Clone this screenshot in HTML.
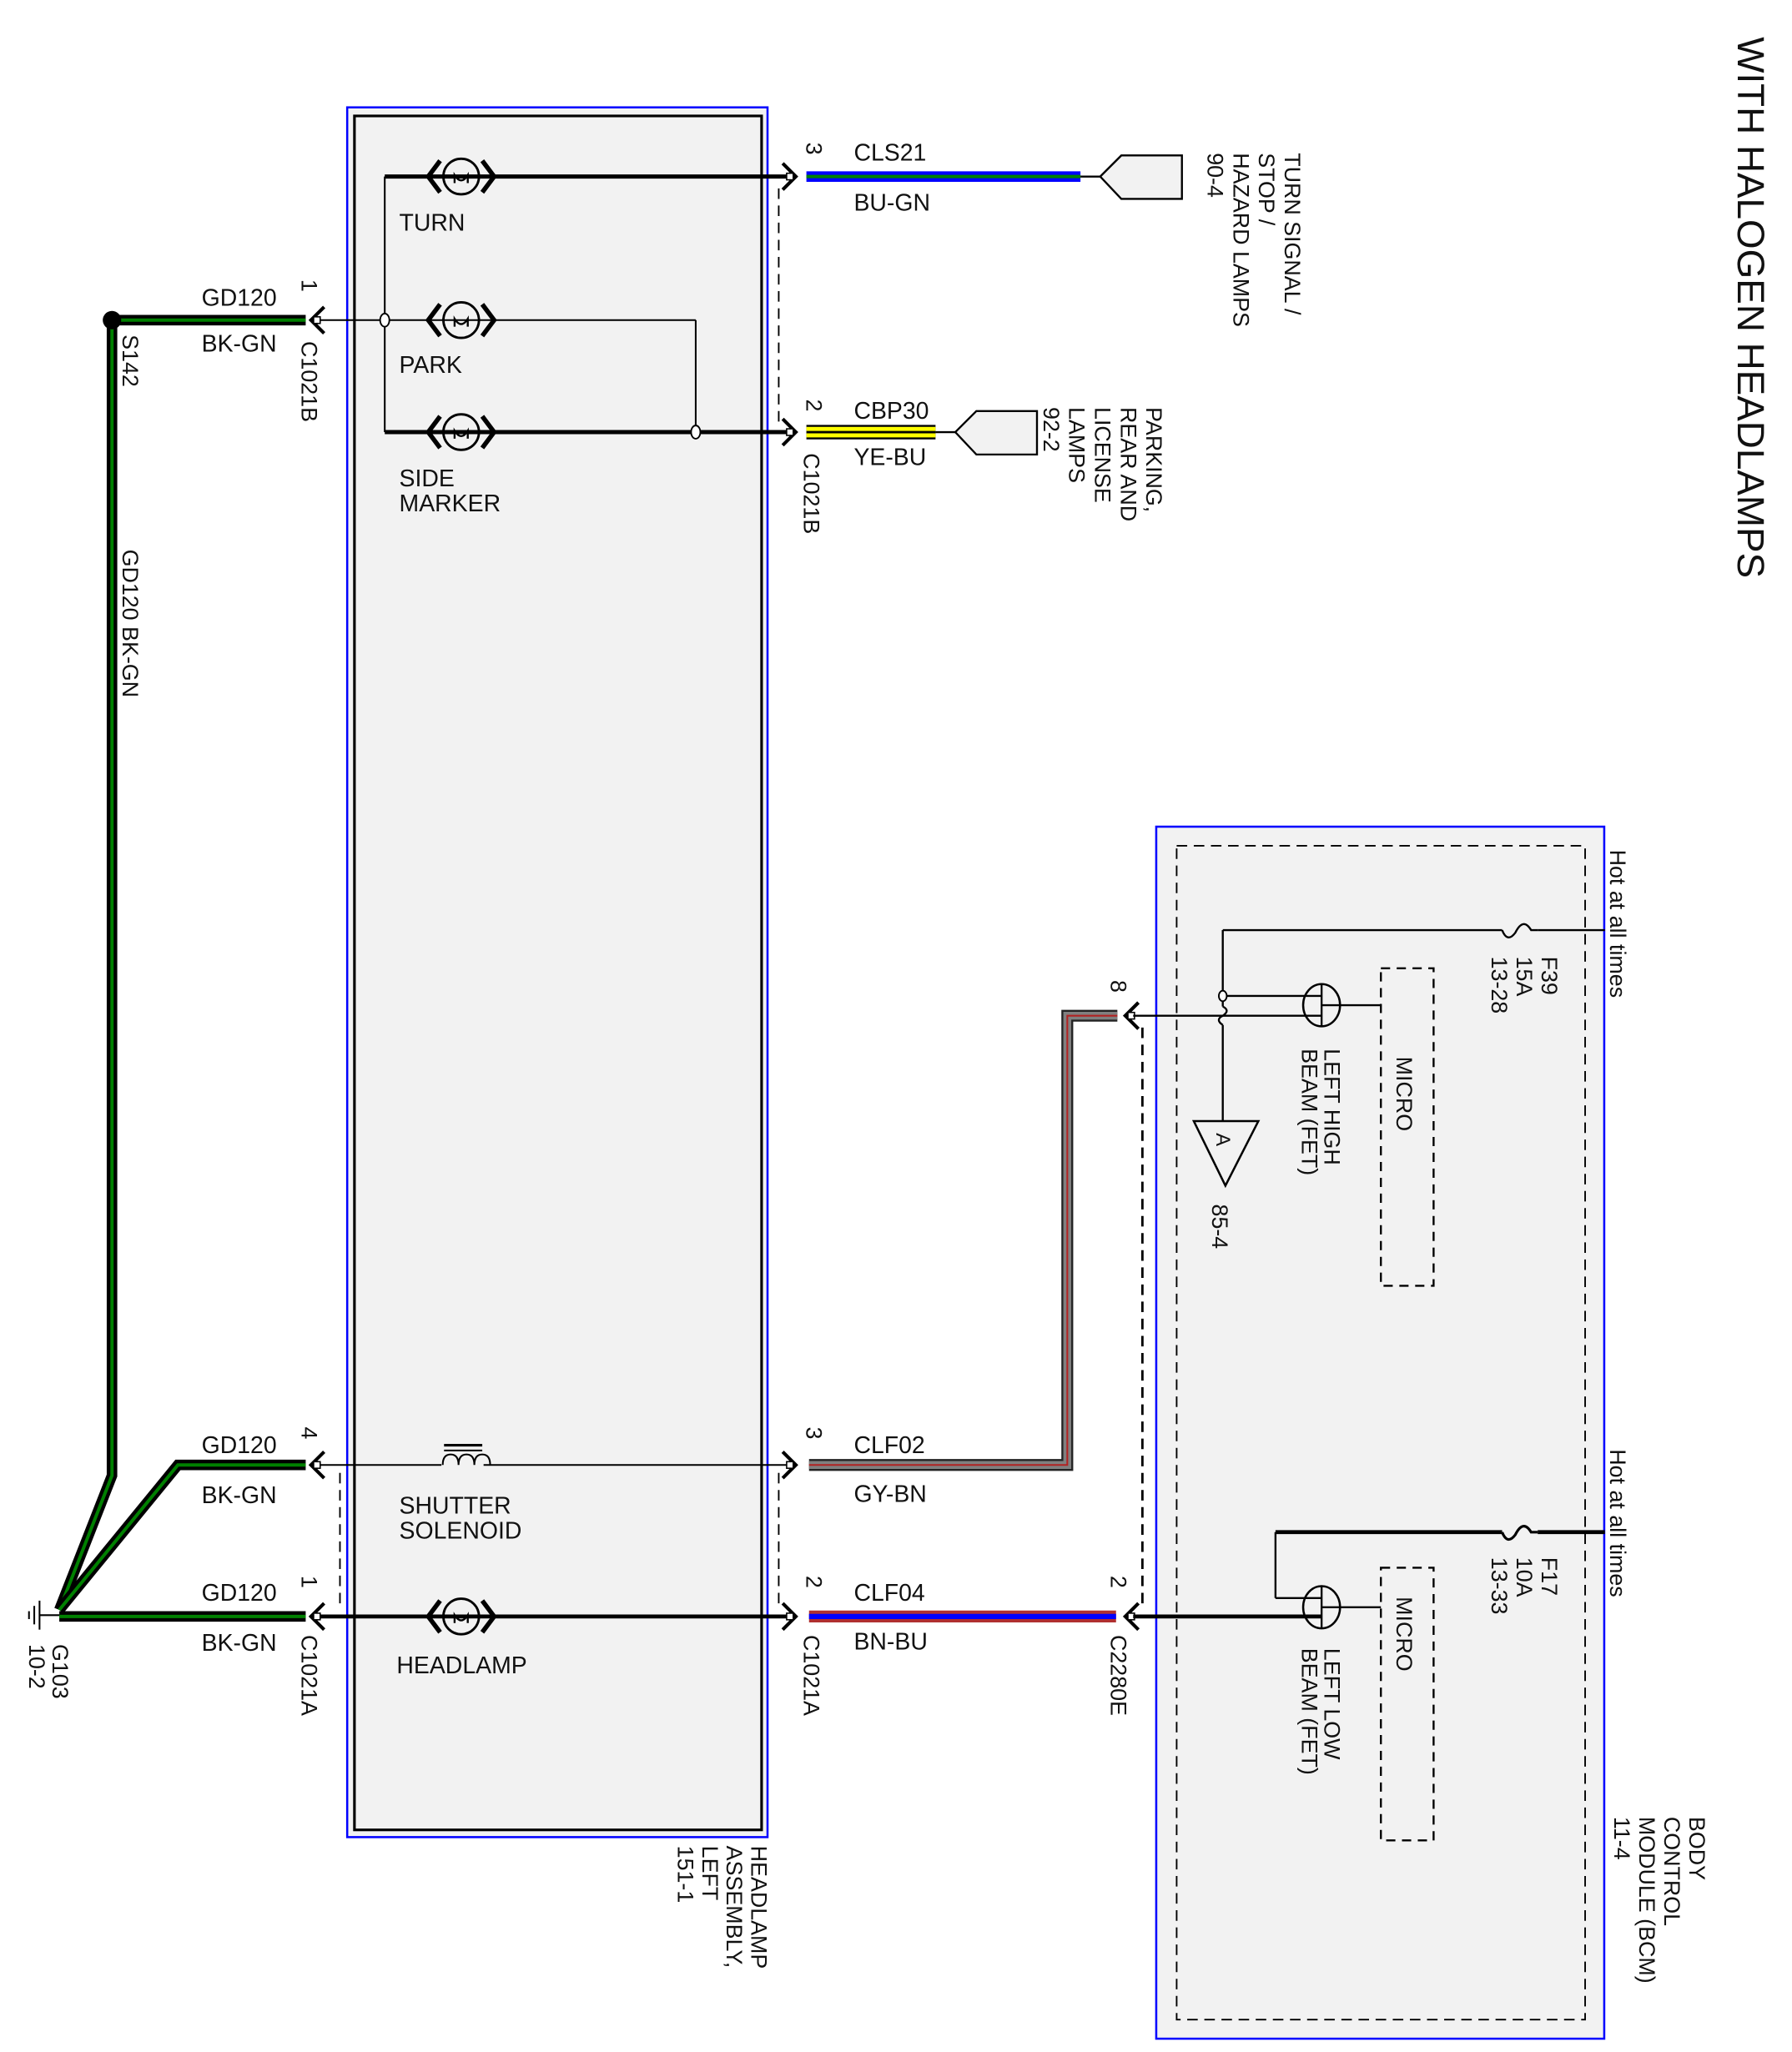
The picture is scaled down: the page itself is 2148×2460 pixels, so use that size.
<!DOCTYPE html>
<html><head><meta charset="utf-8">
<style>
html,body{margin:0;padding:0;background:#fff;}
svg{display:block;}
text{font-family:"Liberation Sans",sans-serif;fill:#111;}
</style></head><body>
<svg width="2148" height="2460" viewBox="0 0 1360 1557.6" preserveAspectRatio="none" xmlns="http://www.w3.org/2000/svg">
<defs>
<g id="lamp">
  <circle cx="0" cy="0" r="13.5" fill="none" stroke="#000" stroke-width="1.8"/>
  <path d="M-5,5 L-5,-1 Q0,7 5,-1 L5,5" fill="none" stroke="#000" stroke-width="1.5"/>
  <path d="M-16,-12 L-25,0 L-16,12" fill="none" stroke="#000" stroke-width="3.5"/>
  <path d="M16,-12 L25,0 L16,12" fill="none" stroke="#000" stroke-width="3.5"/>
</g>
<g id="arrR"><path d="M-6,-10 L4,0 L-6,10" fill="none" stroke="#000" stroke-width="2.6"/><rect x="-3" y="-2.5" width="5" height="5" fill="#fff" stroke="#000" stroke-width="1"/></g>
<g id="arrL"><path d="M6,-10 L-4,0 L6,10" fill="none" stroke="#000" stroke-width="2.6"/><rect x="-2" y="-2.5" width="5" height="5" fill="#fff" stroke="#000" stroke-width="1"/></g>
</defs>

<text transform="translate(1319,28) rotate(90)" font-size="29">WITH HALOGEN HEADLAMPS</text>

<rect x="263.5" y="81.5" width="319" height="1313" fill="#f2f2f2" stroke="#0000ff" stroke-width="1.6"/>
<rect x="269" y="88" width="309" height="1301" fill="#f2f2f2" stroke="#000" stroke-width="2"/>

<rect x="877.5" y="627.5" width="340" height="920" fill="#f2f2f2" stroke="#0000ff" stroke-width="1.6"/>
<rect x="893" y="642" width="310" height="891" fill="none" stroke="#000" stroke-width="1.2" stroke-dasharray="8,5"/>

<g stroke="#000" stroke-width="1.2" stroke-dasharray="8,5" fill="none">
<line x1="591" y1="143" x2="591" y2="322"/>
<line x1="591" y1="1118" x2="591" y2="1222"/>
<line x1="258" y1="1118" x2="258" y2="1222"/>
<line x1="867" y1="780" x2="867" y2="1220" stroke-width="1.8"/>
</g>

<g stroke="#000" fill="none">
<line x1="292" y1="134" x2="292" y2="328" stroke-width="1.3"/>
<line x1="292" y1="134" x2="600" y2="134" stroke-width="3.2"/>
<line x1="238" y1="243" x2="528" y2="243" stroke-width="1.3"/>
<line x1="528" y1="243" x2="528" y2="328" stroke-width="1.3"/>
<line x1="292" y1="328" x2="600" y2="328" stroke-width="3.2"/>
<line x1="238" y1="1112" x2="600" y2="1112" stroke-width="1.3"/>
<line x1="238" y1="1227" x2="600" y2="1227" stroke-width="3"/>
</g>
<ellipse cx="292" cy="243" rx="3.5" ry="5" fill="#fff" stroke="#000" stroke-width="1.2"/>
<ellipse cx="528" cy="328" rx="3.5" ry="5" fill="#fff" stroke="#000" stroke-width="1.2"/>
<use href="#lamp" x="350" y="134"/>
<use href="#lamp" x="350" y="243"/>
<use href="#lamp" x="350" y="328"/>
<use href="#lamp" x="350" y="1227"/>
<rect x="335" y="1100" width="32" height="14" fill="#f2f2f2"/>
<path d="M336,1112 q0,-8 6,-8 q6,0 6,8 q0,-8 6,-8 q6,0 6,8 q0,-8 6,-8 q6,0 6,8" fill="none" stroke="#000" stroke-width="1.3"/>
<line x1="337" y1="1097" x2="366" y2="1097" stroke="#000" stroke-width="2"/>
<line x1="337" y1="1101" x2="366" y2="1101" stroke="#000" stroke-width="1.3"/>

<use href="#arrR" x="600" y="134"/>
<use href="#arrR" x="600" y="328"/>
<use href="#arrR" x="600" y="1112"/>
<use href="#arrR" x="600" y="1227"/>
<use href="#arrL" x="240" y="243"/>
<use href="#arrL" x="240" y="1112"/>
<use href="#arrL" x="240" y="1227"/>
<use href="#arrL" x="858" y="771"/>
<use href="#arrL" x="858" y="1227"/>

<line x1="612" y1="134" x2="820" y2="134" stroke="#0000ff" stroke-width="8"/>
<line x1="612" y1="134" x2="820" y2="134" stroke="#008000" stroke-width="2.5"/>
<line x1="820" y1="134" x2="835" y2="134" stroke="#000" stroke-width="1.5"/>
<polygon points="835,134 851,118 897,118 897,151 851,151" fill="#f2f2f2" stroke="#000" stroke-width="1.5"/>

<line x1="612" y1="328" x2="710" y2="328" stroke="#000" stroke-width="11"/>
<line x1="612" y1="328" x2="710" y2="328" stroke="#ffff00" stroke-width="8"/>
<line x1="612" y1="328" x2="710" y2="328" stroke="#000" stroke-width="1.8"/>
<line x1="710" y1="328" x2="725" y2="328" stroke="#000" stroke-width="1.5"/>
<polygon points="725,328 741,312 787,312 787,345 741,345" fill="#f2f2f2" stroke="#000" stroke-width="1.5"/>

<path d="M614,1112 L810,1112 L810,771 L848,771" fill="none" stroke="#222" stroke-width="9"/>
<path d="M614,1112 L810,1112 L810,771 L848,771" fill="none" stroke="#808080" stroke-width="6"/>
<path d="M614,1112 L810,1112 L810,771 L848,771" fill="none" stroke="#b22222" stroke-width="1.3"/>
<line x1="614" y1="1227" x2="847" y2="1227" stroke="#b03030" stroke-width="9"/>
<line x1="614" y1="1227" x2="847" y2="1227" stroke="#0000ff" stroke-width="4"/>

<g fill="none" stroke-linejoin="miter">
<path d="M232,243 L85,243 L85,1120 L45,1222" stroke="#000" stroke-width="8"/>
<path d="M232,243 L85,243 L85,1120 L45,1222" stroke="#008000" stroke-width="2.5"/>
<path d="M232,1112 L135,1112 L45,1222" stroke="#000" stroke-width="8"/>
<path d="M232,1112 L135,1112 L45,1222" stroke="#008000" stroke-width="2.5"/>
<path d="M232,1227 L45,1227" stroke="#000" stroke-width="8"/>
<path d="M232,1227 L45,1227" stroke="#008000" stroke-width="2.5"/>
</g>
<circle cx="85" cy="243" r="7" fill="#000"/>
<line x1="30" y1="1226" x2="45" y2="1226" stroke="#000" stroke-width="1.3"/>
<line x1="30" y1="1215" x2="30" y2="1237" stroke="#000" stroke-width="1.3"/>
<line x1="26" y1="1219" x2="26" y2="1233" stroke="#000" stroke-width="1.3"/>
<line x1="22" y1="1223" x2="22" y2="1229" stroke="#000" stroke-width="1.3"/>

<g stroke="#000" fill="none" stroke-width="1.5">
<line x1="928" y1="706" x2="1140" y2="706"/>
<path d="M1140,706 q4,10 10,2 q6,-12 12,-2 q4,0 5,0"/>
<line x1="1167" y1="706" x2="1218" y2="706"/>
<line x1="928" y1="706" x2="928" y2="764"/>
<path d="M928,764 q6,3 0,7 q-6,3 0,7"/>
<line x1="928" y1="778" x2="928" y2="851"/>
<line x1="928" y1="756" x2="1003" y2="756"/>
<line x1="860" y1="771" x2="1003" y2="771"/>
<ellipse cx="1003" cy="763" rx="14" ry="16" stroke-width="1.6"/>
<line x1="1003" y1="747" x2="1003" y2="779"/>
<line x1="1003" y1="763" x2="1048" y2="763"/>
<polygon points="906,851 955,851 930,900" stroke-width="1.6"/>
<rect x="1048" y="735" width="40" height="241" stroke-dasharray="7,5"/>

<line x1="968" y1="1163" x2="1140" y2="1163" stroke-width="3"/>
<path d="M1140,1163 q4,10 10,2 q6,-12 12,-2 q4,0 5,0" stroke-width="2"/>
<line x1="1167" y1="1163" x2="1218" y2="1163" stroke-width="3"/>
<line x1="968" y1="1163" x2="968" y2="1213"/>
<line x1="968" y1="1213" x2="1003" y2="1213"/>
<line x1="860" y1="1227" x2="1003" y2="1227" stroke-width="3"/>
<ellipse cx="1003" cy="1220" rx="14" ry="16" stroke-width="1.6"/>
<line x1="1003" y1="1204" x2="1003" y2="1236"/>
<line x1="1003" y1="1220" x2="1048" y2="1220"/>
<rect x="1048" y="1190" width="40" height="207" stroke-dasharray="7,5"/>
</g>
<ellipse cx="928" cy="756" rx="3" ry="4" fill="#fff" stroke="#000" stroke-width="1.2"/>

<g font-size="18">
<text x="303" y="175">TURN</text>
<text x="303" y="283">PARK</text>
<text x="303" y="369">SIDE</text>
<text x="303" y="388">MARKER</text>
<text x="303" y="1149">SHUTTER</text>
<text x="303" y="1168">SOLENOID</text>
<text x="301" y="1270">HEADLAMP</text>
<text x="153" y="232">GD120</text>
<text x="153" y="267">BK-GN</text>
<text x="153" y="1103">GD120</text>
<text x="153" y="1141">BK-GN</text>
<text x="153" y="1215">GD120</text>
<text x="153" y="1253">BK-GN</text>
<text x="648" y="122">CLS21</text>
<text x="648" y="160">BU-GN</text>
<text x="648" y="318">CBP30</text>
<text x="648" y="353">YE-BU</text>
<text x="648" y="1103">CLF02</text>
<text x="648" y="1140">GY-BN</text>
<text x="648" y="1215">CLF04</text>
<text x="648" y="1252">BN-BU</text>
</g>

<g font-size="17">
<text transform="translate(229,212) rotate(90)">1</text>
<text transform="translate(229,259) rotate(90)">C1021B</text>
<text transform="translate(93,254) rotate(90)">S142</text>
<text transform="translate(93,417) rotate(90)">GD120  BK-GN</text>
<text transform="translate(229,1083) rotate(90)">4</text>
<text transform="translate(229,1196) rotate(90)">1</text>
<text transform="translate(229,1241) rotate(90)">C1021A</text>
<text transform="translate(612,108) rotate(90)">3</text>
<text transform="translate(612,303) rotate(90)">2</text>
<text transform="translate(610,344) rotate(90)">C1021B</text>
<text transform="translate(612,1083) rotate(90)">3</text>
<text transform="translate(612,1196) rotate(90)">2</text>
<text transform="translate(610,1241) rotate(90)">C1021A</text>
<text transform="translate(843,1196) rotate(90)">2</text>
<text transform="translate(843,1241) rotate(90)">C2280E</text>
<text transform="translate(843,744) rotate(90)">8</text>
<text transform="translate(40,1248) rotate(90)">G103<tspan x="0" dy="18">10-2</tspan></text>
<text transform="translate(570,1401) rotate(90)">HEADLAMP<tspan x="0" dy="18.5">ASSEMBLY,</tspan><tspan x="0" dy="18.5">LEFT</tspan><tspan x="0" dy="18.5">151-1</tspan></text>
<text transform="translate(975,116) rotate(90)">TURN SIGNAL /<tspan x="0" dy="19.5">STOP /</tspan><tspan x="0" dy="19.5">HAZARD LAMPS</tspan><tspan x="0" dy="19.5">90-4</tspan></text>
<text transform="translate(870,309) rotate(90)">PARKING,<tspan x="0" dy="19.5">REAR AND</tspan><tspan x="0" dy="19.5">LICENSE</tspan><tspan x="0" dy="19.5">LAMPS</tspan><tspan x="0" dy="19.5">92-2</tspan></text>
<text transform="translate(1222,645) rotate(90)">Hot at all times</text>
<text transform="translate(1222,1100) rotate(90)">Hot at all times</text>
<text transform="translate(1170,726) rotate(90)">F39<tspan x="0" dy="19">15A</tspan><tspan x="0" dy="19">13-28</tspan></text>
<text transform="translate(1170,1182) rotate(90)">F17<tspan x="0" dy="19">10A</tspan><tspan x="0" dy="19">13-33</tspan></text>
<text transform="translate(1005,796) rotate(90)">LEFT HIGH<tspan x="0" dy="17">BEAM (FET)</tspan></text>
<text transform="translate(1005,1251) rotate(90)">LEFT LOW<tspan x="0" dy="17">BEAM (FET)</tspan></text>
<text transform="translate(1060,802) rotate(90)">MICRO</text>
<text transform="translate(1060,1212) rotate(90)">MICRO</text>
<text transform="translate(920,914) rotate(90)">85-4</text>
<text transform="translate(923,860) rotate(90)" font-size="15">A</text>
<text transform="translate(1282,1379) rotate(90)">BODY<tspan x="0" dy="19">CONTROL</tspan><tspan x="0" dy="19">MODULE (BCM)</tspan><tspan x="0" dy="19">11-4</tspan></text>
</g>
</svg>
</body></html>
